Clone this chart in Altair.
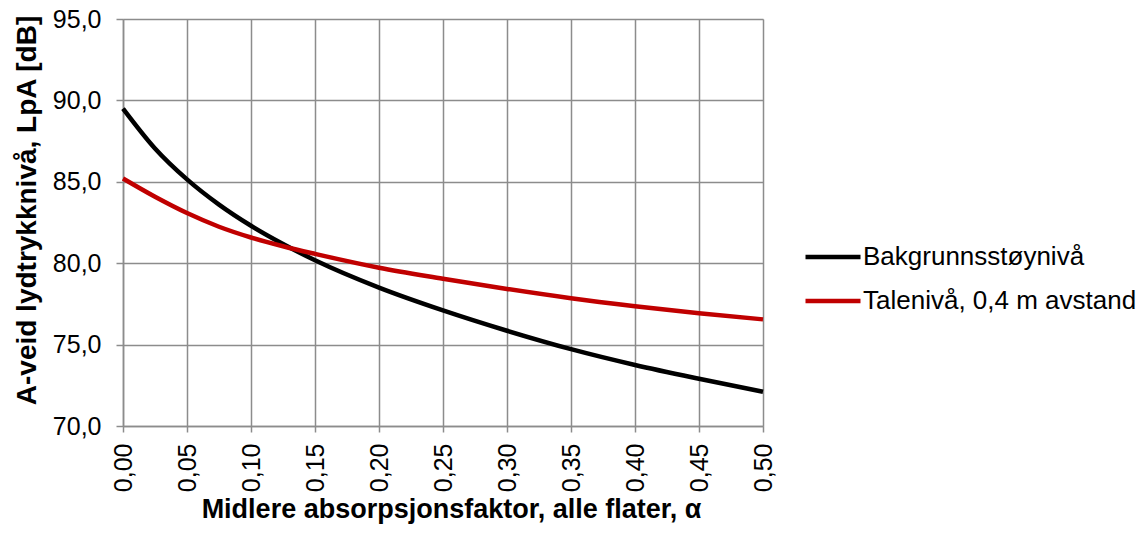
import altair as alt
import pandas as pd

alpha = [0.0, 0.025, 0.05, 0.075, 0.10, 0.125, 0.15, 0.20, 0.25, 0.30, 0.35, 0.40, 0.45, 0.50]
bakgrunn = [89.5, 87.05, 85.15, 83.6, 82.3, 81.18, 80.18, 78.5, 77.1, 75.85, 74.72, 73.75, 72.9, 72.1]
tale = [85.2, 84.08, 83.08, 82.24, 81.58, 81.04, 80.57, 79.72, 79.05, 78.42, 77.85, 77.36, 76.92, 76.55]

series_names = ["Bakgrunnsstøynivå", "Talenivå, 0,4 m avstand"]
colors = ["#000000", "#C00000"]

rows = []
for a, b, t in zip(alpha, bakgrunn, tale):
    rows.append({"alpha": a, "value": b, "serie": series_names[0]})
    rows.append({"alpha": a, "value": t, "serie": series_names[1]})
df = pd.DataFrame(rows)

font = "Liberation Sans"
grid_color = "#8C8C8C"

chart = alt.Chart(df).mark_line(strokeWidth=4.5, interpolate="monotone").encode(
    x=alt.X("alpha:Q",
            scale=alt.Scale(domain=[0, 0.5], nice=False, zero=False),
            axis=alt.Axis(
                title="Midlere absorpsjonsfaktor, alle flater, α",
                values=[i * 0.05 for i in range(11)],
                labelExpr="replace(format(datum.value, '.2f'), '.', ',')",
                labelAngle=270, labelAlign="right", labelBaseline="middle",
                labelFont=font, labelFontSize=25, labelColor="#000000",
                labelPadding=11, labelFlush=False, labelOverlap=False,
                titleFont=font, titleFontSize=27, titleFontWeight="bold",
                titleColor="#000000",
                titleX=328, titleY=83, titleAlign="center", titleBaseline="middle",
                grid=True, gridColor=grid_color, gridWidth=1.5,
                domainColor=grid_color, domainWidth=1.5,
                ticks=True, tickSize=6, tickColor=grid_color, tickWidth=1.5,
            )),
    y=alt.Y("value:Q",
            scale=alt.Scale(domain=[70, 95], nice=False, zero=False),
            axis=alt.Axis(
                title="A-veid lydtrykknivå, LpA [dB]",
                values=[70, 75, 80, 85, 90, 95],
                labelExpr="replace(format(datum.value, '.1f'), '.', ',')",
                labelFont=font, labelFontSize=25, labelColor="#000000",
                labelPadding=15, labelFlush=False,
                titleFont=font, titleFontSize=28, titleFontWeight="bold",
                titleColor="#000000",
                titleX=-96, titleY=191, titleAngle=270,
                titleAlign="center", titleBaseline="middle",
                grid=True, gridColor=grid_color, gridWidth=1.5,
                domainColor=grid_color, domainWidth=1.5,
                ticks=True, tickSize=7, tickColor=grid_color, tickWidth=1.5,
            )),
    color=alt.Color("serie:N",
                    scale=alt.Scale(domain=series_names, range=colors),
                    legend=alt.Legend(
                        title=None, orient="none", legendX=680, legendY=208,
                        symbolType="stroke", symbolSize=3025, symbolStrokeWidth=4.5,
                        labelFont=font, labelFontSize=26, labelColor="#000000",
                        labelOffset=0, rowPadding=1, padding=0,
                        labelLimit=400,
                    )),
).properties(
    width=640, height=407,
    padding={"left": 115, "top": 11, "right": 375, "bottom": 99},
    autosize=alt.AutoSizeParams(type="none"),
).configure_view(
    stroke=grid_color, strokeWidth=1.5
).configure(background="#FFFFFF")

chart.save("out.html", embed_options={"renderer": "svg", "actions": False})
